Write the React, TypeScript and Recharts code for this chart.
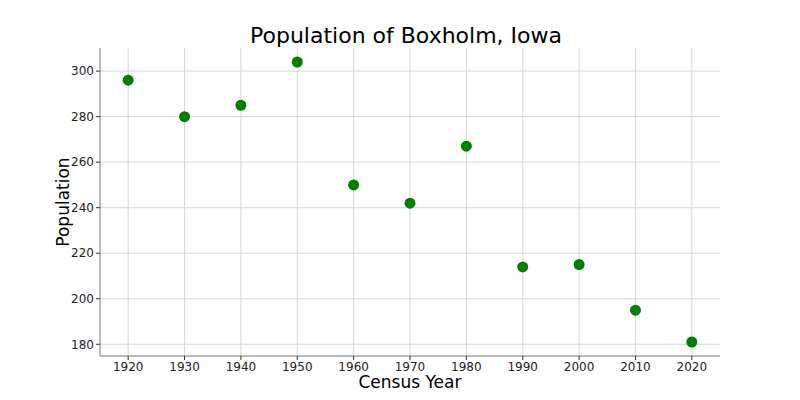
import { ScatterChart, Scatter, XAxis, YAxis, CartesianGrid } from 'recharts'

const years = [1920, 1930, 1940, 1950, 1960, 1970, 1980, 1990, 2000, 2010, 2020]
const population = [296, 280, 285, 304, 250, 242, 267, 214, 215, 195, 181]
const xTicks = [1920, 1930, 1940, 1950, 1960, 1970, 1980, 1990, 2000, 2010, 2020]
const yTicks = [180, 200, 220, 240, 260, 280, 300]

const data = years.map((year, i) => ({ year, pop: population[i] }))

const FONT = '"DejaVu Sans", sans-serif'
const tickStyle = { fontSize: 12, fill: '#222', fontFamily: FONT }

const Dot = (props: any) => <circle cx={props.cx} cy={props.cy} r={5.5} fill="#008000" />

export default function App() {
  return (
    <div style={{ position: 'absolute', left: 0, top: 0, width: 800, height: 400, background: '#fff', fontFamily: FONT }}>
      <div style={{ position: 'absolute', left: 0, width: 812, top: 22, textAlign: 'center', fontSize: 22, color: '#000', lineHeight: '28px' }}>
        Population of Boxholm, Iowa
      </div>
      <ScatterChart width={800} height={400} margin={{ top: 48, right: 80, bottom: 14, left: 40 }}>
        <CartesianGrid xAxisId="b" yAxisId="l" stroke="#d6d6d6" strokeWidth={1} horizontalValues={yTicks} verticalValues={xTicks} />
        <XAxis
          xAxisId="b"
          type="number"
          dataKey="year"
          domain={[1915, 2025]}
          ticks={xTicks}
          allowDataOverflow
          tick={tickStyle}
          tickSize={4}
          stroke="#777"
          tickLine={{ stroke: '#333' }}
          height={30}
          label={{ value: 'Census Year', position: 'insideBottom', offset: -2, fontSize: 17, fill: '#000', fontFamily: FONT }}
        />
        <XAxis xAxisId="t" orientation="top" type="number" dataKey="year" domain={[1915, 2025]} tick={false} tickLine={false} stroke="#777" height={0} />
        <YAxis
          yAxisId="l"
          type="number"
          dataKey="pop"
          domain={[174.85, 310.15]}
          ticks={yTicks}
          allowDataOverflow
          tick={tickStyle}
          tickSize={4}
          stroke="#777"
          tickLine={{ stroke: '#333' }}
          width={60}
          label={{ value: 'Population', angle: -90, position: 'insideLeft', offset: 23, fontSize: 17, fill: '#000', fontFamily: FONT, style: { textAnchor: 'middle' } }}
        />
        <YAxis yAxisId="r" orientation="right" type="number" dataKey="pop" domain={[174.85, 310.15]} tick={false} tickLine={false} stroke="#777" width={0} />
        <Scatter data={data} xAxisId="b" yAxisId="l" fill="#008000" shape={Dot} isAnimationActive={false} />
      </ScatterChart>
    </div>
  )
}
